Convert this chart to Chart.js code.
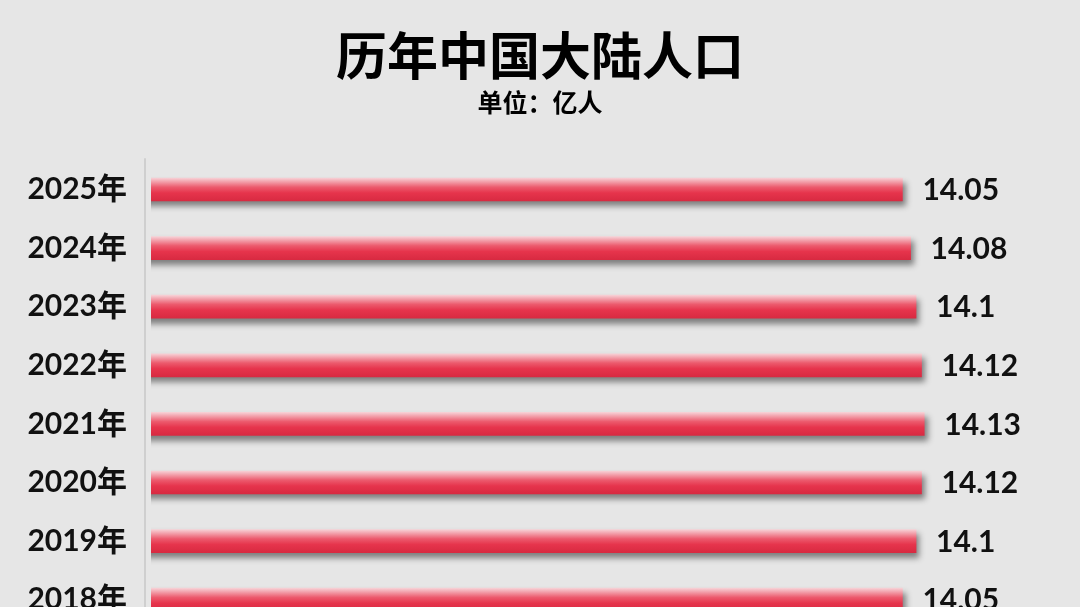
<!DOCTYPE html>
<html>
<head>
<meta charset="utf-8">
<script src="https://cdn.jsdelivr.net/npm/chart.js@4"></script>
<style>
  html, body { margin: 0; padding: 0; background: #e6e6e6; overflow: hidden; }
  canvas { display: block; }
</style>
</head>
<body>
<canvas id="popChart" width="1080" height="671"></canvas>
<script>
/* ===== DATA ===== */
const years = ["2025年", "2024年", "2023年", "2022年", "2021年", "2020年", "2019年", "2018年"];
const population = [14.05, 14.08, 14.1, 14.12, 14.13, 14.12, 14.1, 14.05];
const titleText = "历年中国大陆人口";
const unitText = "单位：亿人";

const LABEL_FONT = "bold 30px Lato, 'Noto Sans CJK SC', sans-serif";

/* ===== BAR GRADIENT ===== */
function barGradient(context) {
    const chart = context.chart;
    const y = chart.scales.y;
    if (!chart.chartArea || !y) return "#e63a50";
    const cy = y.getPixelForValue(context.dataIndex);
    const g = chart.ctx.createLinearGradient(0, cy - 11.5, 0, cy + 11.5);
    g.addColorStop(0, "#f7d0d5");
    g.addColorStop(0.4, "#ec5a6d");
    g.addColorStop(0.65, "#e6344c");
    g.addColorStop(1, "#d82a41");
    return g;
}

/* ===== PLUGINS ===== */
const barShadow = {
    id: "barShadow",
    beforeDatasetsDraw(chart) {
        const ctx = chart.ctx;
        ctx.save();
        ctx.shadowColor = "rgba(0,0,0,0.45)";
        ctx.shadowBlur = 6;
        ctx.shadowOffsetX = 3;
        ctx.shadowOffsetY = 5;
    },
    afterDatasetsDraw(chart) {
        chart.ctx.restore();
    }
};

const valueLabels = {
    id: "valueLabels",
    afterDraw(chart) {
        const ctx = chart.ctx;
        const area = chart.chartArea;
        ctx.save();
        // faint axis line left of bars
        ctx.strokeStyle = "#cfcfcf";
        ctx.lineWidth = 2;
        ctx.beginPath();
        ctx.moveTo(area.left - 6, area.top - 2);
        ctx.lineTo(area.left - 6, chart.height);
        ctx.stroke();

        ctx.font = LABEL_FONT;
        ctx.fillStyle = "#111";
        ctx.textAlign = "left";
        ctx.textBaseline = "middle";
        chart.getDatasetMeta(0).data.forEach((bar, i) => {
            ctx.fillText(String(population[i]), bar.x + 20, bar.y + 1);
        });
        ctx.restore();
    }
};

/* ===== CHART ===== */
new Chart(document.getElementById("popChart"), {
    type: "bar",
    data: {
        labels: years,
        datasets: [{
            data: population,
            backgroundColor: barGradient,
            borderWidth: 0,
            barThickness: 23
        }]
    },
    options: {
        indexAxis: "y",
        responsive: false,
        devicePixelRatio: 1,
        animation: false,
        layout: { padding: 0 },
        scales: {
            x: {
                display: false,
                min: 11.3,
                max: 14.7
            },
            y: {
                afterFit(scale) { scale.width = 151; },
                grid: { display: false, drawTicks: false },
                border: { display: false },
                ticks: {
                    color: "#111",
                    padding: 24,
                    font: { family: "Lato, 'Noto Sans CJK SC', sans-serif", size: 30, weight: "bold" }
                }
            }
        },
        plugins: {
            legend: { display: false },
            tooltip: { enabled: false },
            title: {
                display: true,
                text: titleText,
                color: "#000",
                padding: { top: 25, bottom: 0 },
                font: { family: "'Noto Sans CJK SC', sans-serif", size: 51, weight: "bold", lineHeight: 1.2 }
            },
            subtitle: {
                display: true,
                text: unitText,
                color: "#000",
                padding: { top: 1, bottom: 43 },
                font: { family: "'Noto Sans CJK SC', sans-serif", size: 25, weight: "bold", lineHeight: 1.2 }
            }
        }
    },
    plugins: [barShadow, valueLabels]
});
</script>
</body>
</html>
